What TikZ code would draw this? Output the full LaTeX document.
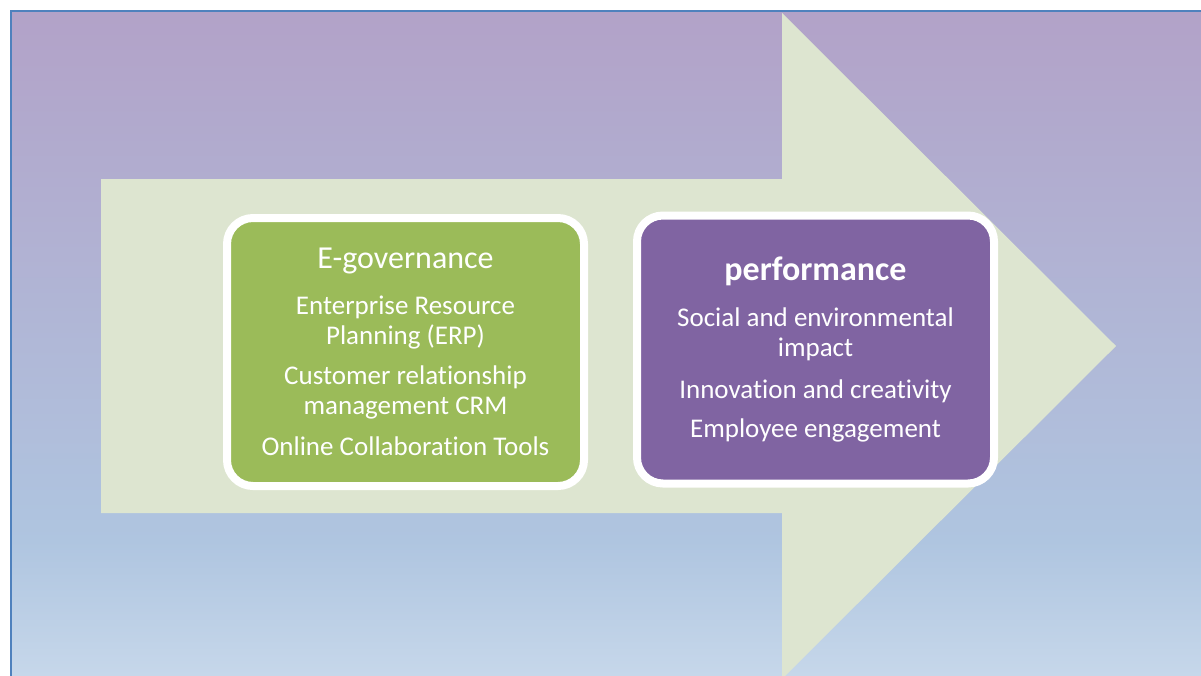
\documentclass[tikz,border=0pt]{standalone}
\usepackage{fontspec}
\setmainfont{Carlito}[Ligatures=NoCommon]
\usetikzlibrary{positioning,shadows}
\definecolor{bgtop}{RGB}{178,162,200}
\definecolor{bgmid}{RGB}{175,197,224}
\definecolor{bgbot}{RGB}{198,215,234}
\definecolor{arrowfill}{RGB}{221,229,208}
\definecolor{govgreen}{RGB}{155,187,89}
\definecolor{perfviolet}{RGB}{128,100,162}
\definecolor{frameblue}{RGB}{79,129,189}
\tikzstyle{box}=[rounded corners=26pt, draw=white, line width=8pt, minimum width=357pt, minimum height=268pt,
  inner sep=0pt, align=center, text=white, font=\fontsize{27}{30}\selectfont,
  drop shadow={opacity=0.25, shadow xshift=2pt, shadow yshift=-2pt}]

\begin{document}
\begin{tikzpicture}[x=1pt,y=-1pt,gov/.style={box,fill=govgreen},perf/.style={box,fill=perfviolet}]
  \useasboundingbox (0,0) rectangle (1201,675);
  \clip (0,0) rectangle (1201,675);
  \shade[top color=bgtop,bottom color=bgmid] (12,12) rectangle (1201,542);
  \shade[top color=bgmid,bottom color=bgbot] (12,541) rectangle (1201,675);
  \draw[frameblue,line width=2pt] (11,676) -- (11,11) -- (1201,11);
  \fill[arrowfill] (101,179) -- (782,179) -- (782,13) -- (1116,346) -- (782,679) -- (782,513) -- (101,513) -- cycle;
  \node [gov] (egov) at (405.5,352) {{\fontsize{32}{34}\selectfont E-governance}\\[16pt]
    Enterprise Resource\\ Planning (ERP)\\[10pt]
    Customer relationship\\ management CRM\\[11pt]
    Online Collaboration Tools};
  \node [perf] (perf) [right=45pt of egov,yshift=2.5pt] {{\fontsize{34}{36}\selectfont\bfseries performance}\\[16pt]
    Social and environmental\\ impact\\[12pt]
    Innovation and creativity\\[9pt]
    Employee engagement};
\end{tikzpicture}
\end{document}
